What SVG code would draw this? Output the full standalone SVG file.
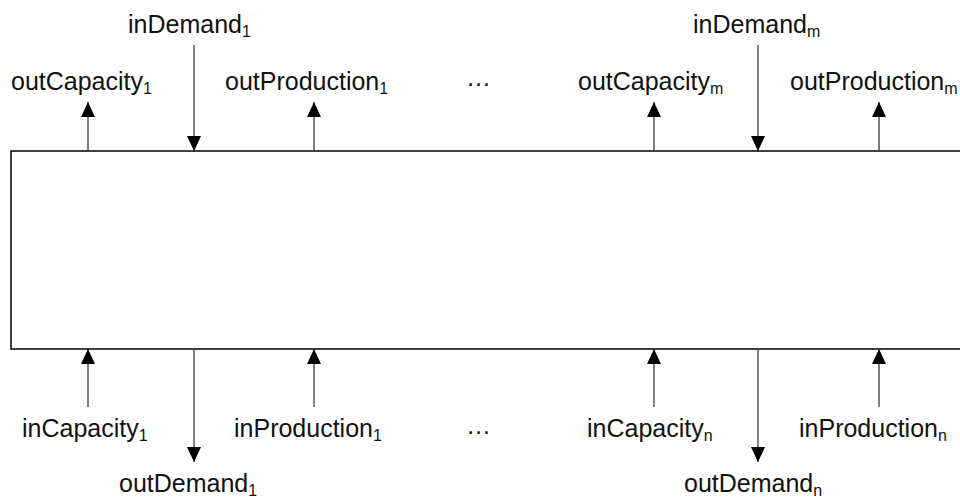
<svg xmlns="http://www.w3.org/2000/svg" width="960" height="499" viewBox="0 0 960 499">
<style>
.lbl{font-family:"Liberation Sans",Arial,sans-serif;font-size:25px;fill:#111}
.sub{font-size:16px}
.arr{stroke:#3a3a3a;stroke-width:1.3;fill:none;marker-end:url(#ah)}
</style>
<defs>
<marker id="ah" markerUnits="userSpaceOnUse" markerWidth="15" markerHeight="14" refX="15" refY="7" orient="auto">
<path d="M0,0 L15,7 L0,14 z" fill="#000"/>
</marker>
</defs>
<rect width="960" height="499" fill="#fff"/>
<g id="block"><rect x="11" y="151" width="960" height="198" fill="#fff" stroke="#000" stroke-width="1.5"/></g>
<g id="connectors">
<line class="arr" x1="88" y1="151" x2="88" y2="102"/>
<line class="arr" x1="194" y1="45" x2="194" y2="151"/>
<line class="arr" x1="314" y1="151" x2="314" y2="102"/>
<line class="arr" x1="654" y1="151" x2="654" y2="102"/>
<line class="arr" x1="758" y1="45" x2="758" y2="151"/>
<line class="arr" x1="879" y1="151" x2="879" y2="102"/>
<line class="arr" x1="88" y1="407" x2="88" y2="349"/>
<line class="arr" x1="194" y1="349" x2="194" y2="462"/>
<line class="arr" x1="314" y1="407" x2="314" y2="349"/>
<line class="arr" x1="654" y1="407" x2="654" y2="349"/>
<line class="arr" x1="758" y1="349" x2="758" y2="462"/>
<line class="arr" x1="879" y1="407" x2="879" y2="349"/>
</g>
<g id="label-inDemand1"><text class="lbl" x="128" y="33">inDemand<tspan class="sub" dy="4">1</tspan></text></g>
<g id="label-outCapacity1"><text class="lbl" x="11" y="90">outCapacity<tspan class="sub" dy="4">1</tspan></text></g>
<g id="label-outProduction1"><text class="lbl" x="225" y="90">outProduction<tspan class="sub" dy="4">1</tspan></text></g>
<g id="label-dots-top"><text class="lbl" x="466" y="86">…</text></g>
<g id="label-outCapacitym"><text class="lbl" x="578" y="90">outCapacity<tspan class="sub" dy="4">m</tspan></text></g>
<g id="label-inDemandm"><text class="lbl" x="693" y="33">inDemand<tspan class="sub" dy="4">m</tspan></text></g>
<g id="label-outProductionm"><text class="lbl" x="790" y="90">outProduction<tspan class="sub" dy="4">m</tspan></text></g>
<g id="label-inCapacity1"><text class="lbl" x="22" y="437">inCapacity<tspan class="sub" dy="4">1</tspan></text></g>
<g id="label-inProduction1"><text class="lbl" x="234" y="437">inProduction<tspan class="sub" dy="4">1</tspan></text></g>
<g id="label-dots-bottom"><text class="lbl" x="466" y="434">…</text></g>
<g id="label-outDemand1"><text class="lbl" x="119" y="492">outDemand<tspan class="sub" dy="4">1</tspan></text></g>
<g id="label-inCapacityn"><text class="lbl" x="587" y="437">inCapacity<tspan class="sub" dy="4">n</tspan></text></g>
<g id="label-inProductionn"><text class="lbl" x="799" y="437">inProduction<tspan class="sub" dy="4">n</tspan></text></g>
<g id="label-outDemandn"><text class="lbl" x="684" y="492">outDemand<tspan class="sub" dy="4">n</tspan></text></g>
</svg>
